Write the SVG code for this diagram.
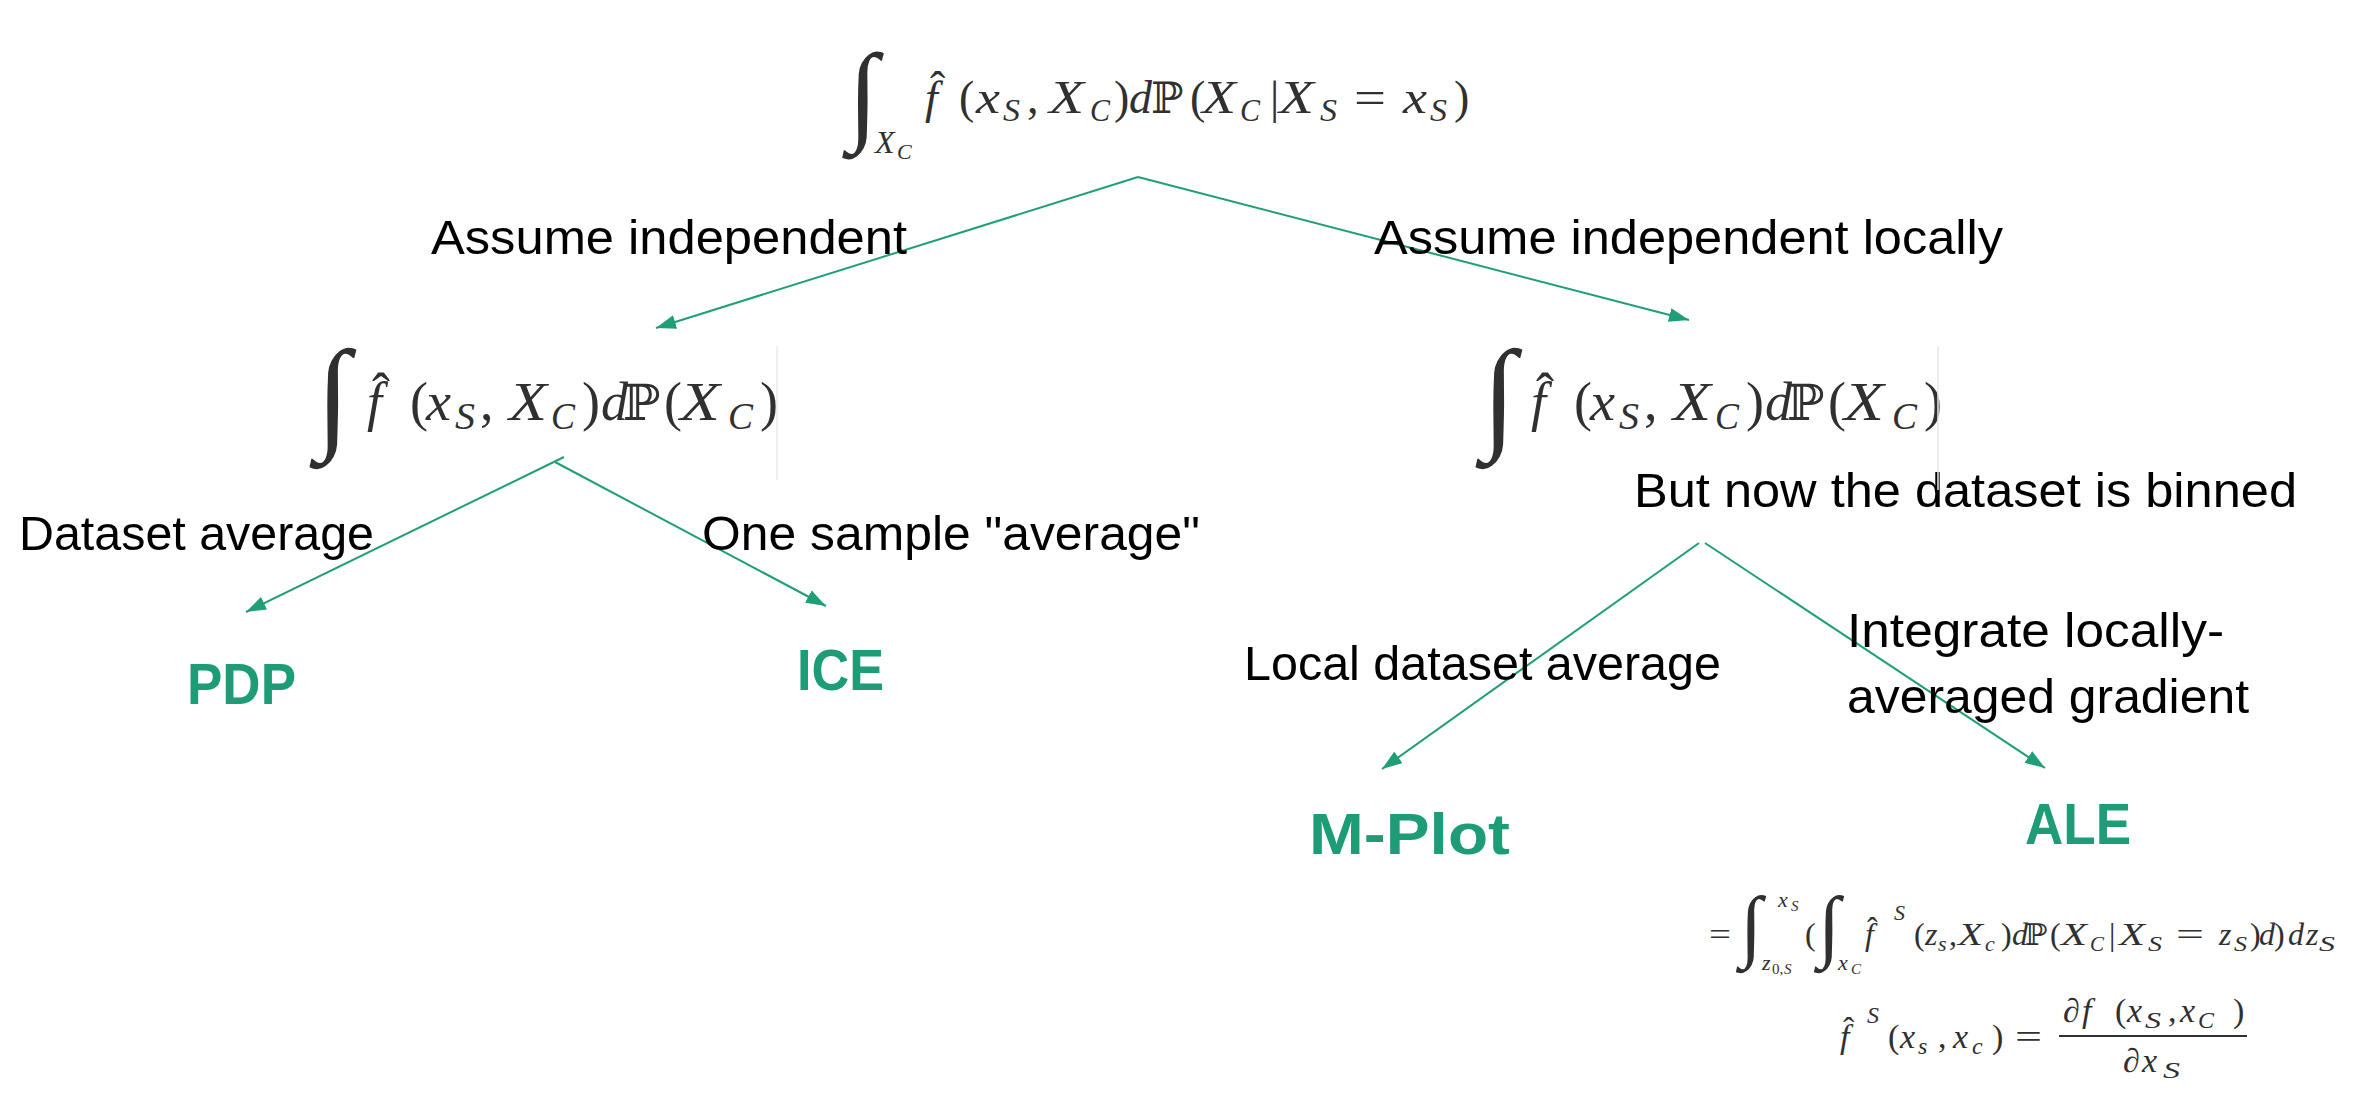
<svg xmlns="http://www.w3.org/2000/svg" width="2358" height="1103" viewBox="0 0 2358 1103">
<defs>
<style>
.lbl{font-family:"Liberation Sans",Arial,sans-serif;font-size:49px;fill:#000}
.name{font-family:"Liberation Sans",Arial,sans-serif;font-weight:bold;font-size:57px;fill:#1e9c77}
.m{font-family:"Liberation Serif","DejaVu Serif",serif;fill:#303030}
.i{font-style:italic}
.bb{font-family:"DejaVu Serif",serif;font-style:normal}
.int{font-family:"Liberation Serif","DejaVu Serif",serif;fill:#303030}
.conn{stroke:#1f9e78;stroke-width:2;fill:none;marker-end:url(#ah)}
.sep{stroke:#e8e8e8;stroke-width:1.5}
</style>
<marker id="ah" viewBox="0 0 10 7" refX="10" refY="3.5" markerWidth="10" markerHeight="7" orient="auto" markerUnits="strokeWidth">
<path d="M0,0 L10,3.5 L0,7 z" fill="#1f9e78"/>
</marker>
</defs>
<rect width="2358" height="1103" fill="#fff"/>

<g id="connectors">
<line class="conn" x1="1138" y1="177" x2="656" y2="328"/>
<line class="conn" x1="1138" y1="177" x2="1689" y2="320"/>
<line class="conn" x1="564" y1="457" x2="246" y2="612"/>
<line class="conn" x1="555" y1="462" x2="826" y2="606"/>
<line class="conn" x1="1699" y1="543" x2="1382" y2="769"/>
<line class="conn" x1="1705" y1="543" x2="2045" y2="768"/>
</g>

<g id="edge-labels">
<text class="lbl" x="431" y="254" textLength="476" lengthAdjust="spacingAndGlyphs">Assume independent</text>
<text class="lbl" x="1374" y="254" textLength="629" lengthAdjust="spacingAndGlyphs">Assume independent locally</text>
<text class="lbl" x="19" y="550" textLength="355" lengthAdjust="spacingAndGlyphs">Dataset average</text>
<text class="lbl" x="702" y="550" textLength="498" lengthAdjust="spacingAndGlyphs">One sample "average"</text>
<text class="lbl" x="1634" y="507" textLength="663" lengthAdjust="spacingAndGlyphs">But now the dataset is binned</text>
<text class="lbl" x="1244" y="680" textLength="477" lengthAdjust="spacingAndGlyphs">Local dataset average</text>
<text class="lbl" x="1847" y="647" textLength="377" lengthAdjust="spacingAndGlyphs">Integrate locally-</text>
<text class="lbl" x="1847" y="713" textLength="402" lengthAdjust="spacingAndGlyphs">averaged gradient</text>
</g>

<g id="n-root">
<text class="int" font-size="110" x="848" y="130">∫</text>
<text class="m i" font-size="32" x="875" y="153">X<tspan font-size="22" x="897" y="159">C</tspan></text>
<text class="m" font-size="46" x="930" y="104">ˆ</text>
<text class="m" font-size="46">
<tspan class="i" x="925" y="113">f</tspan><tspan x="959" y="113">(</tspan><tspan class="i" x="976" y="113" textLength="24" lengthAdjust="spacingAndGlyphs">x</tspan><tspan class="i" x="1003" y="121" font-size="32" textLength="17" lengthAdjust="spacingAndGlyphs">S</tspan><tspan x="1027" y="113">,</tspan><tspan class="i" x="1049" y="113" textLength="35" lengthAdjust="spacingAndGlyphs">X</tspan><tspan class="i" x="1090" y="121" font-size="32" textLength="20" lengthAdjust="spacingAndGlyphs">C</tspan><tspan x="1114" y="113">)</tspan><tspan class="i" x="1129" y="113">d</tspan><tspan class="bb" x="1151" y="113" font-size="43">ℙ</tspan><tspan x="1190" y="113">(</tspan><tspan class="i" x="1202" y="113" textLength="34" lengthAdjust="spacingAndGlyphs">X</tspan><tspan class="i" x="1240" y="121" font-size="32" textLength="20" lengthAdjust="spacingAndGlyphs">C</tspan><tspan x="1270" y="113">|</tspan><tspan class="i" x="1279" y="113" textLength="35" lengthAdjust="spacingAndGlyphs">X</tspan><tspan class="i" x="1320" y="121" font-size="32" textLength="17" lengthAdjust="spacingAndGlyphs">S</tspan><tspan x="1354" y="113" textLength="32" lengthAdjust="spacingAndGlyphs">=</tspan><tspan class="i" x="1403" y="113" textLength="24" lengthAdjust="spacingAndGlyphs">x</tspan><tspan class="i" x="1430" y="121" font-size="32" textLength="17" lengthAdjust="spacingAndGlyphs">S</tspan><tspan x="1454" y="113">)</tspan>
</text>
</g>

<g id="n-left">
<text class="int" font-size="124" x="316" y="436">∫</text>
<text class="m" font-size="54" x="372" y="411">ˆ</text>
<text class="m" font-size="54">
<tspan class="i" x="367" y="420">f</tspan><tspan x="410" y="420">(</tspan><tspan class="i" x="426" y="420" textLength="25" lengthAdjust="spacingAndGlyphs">x</tspan><tspan class="i" x="455" y="429" font-size="38" textLength="20" lengthAdjust="spacingAndGlyphs">S</tspan><tspan x="480" y="420">,</tspan><tspan class="i" x="509" y="420" textLength="38" lengthAdjust="spacingAndGlyphs">X</tspan><tspan class="i" x="551" y="429" font-size="38" textLength="24" lengthAdjust="spacingAndGlyphs">C</tspan><tspan x="582" y="420">)</tspan><tspan class="i" x="601" y="420">d</tspan><tspan class="bb" x="623" y="420" font-size="50">ℙ</tspan><tspan x="664" y="420">(</tspan><tspan class="i" x="680" y="420" textLength="40" lengthAdjust="spacingAndGlyphs">X</tspan><tspan class="i" x="728" y="429" font-size="38" textLength="25" lengthAdjust="spacingAndGlyphs">C</tspan><tspan x="760" y="420">)</tspan>
</text>
<line class="sep" x1="777" y1="346" x2="777" y2="480"/>
</g>

<g id="n-right">
<text class="int" font-size="124" x="1482" y="436">∫</text>
<text class="m" font-size="54" x="1536" y="411">ˆ</text>
<text class="m" font-size="54">
<tspan class="i" x="1531" y="420">f</tspan><tspan x="1574" y="420">(</tspan><tspan class="i" x="1590" y="420" textLength="25" lengthAdjust="spacingAndGlyphs">x</tspan><tspan class="i" x="1619" y="429" font-size="38" textLength="20" lengthAdjust="spacingAndGlyphs">S</tspan><tspan x="1644" y="420">,</tspan><tspan class="i" x="1673" y="420" textLength="38" lengthAdjust="spacingAndGlyphs">X</tspan><tspan class="i" x="1715" y="429" font-size="38" textLength="24" lengthAdjust="spacingAndGlyphs">C</tspan><tspan x="1746" y="420">)</tspan><tspan class="i" x="1765" y="420">d</tspan><tspan class="bb" x="1787" y="420" font-size="50">ℙ</tspan><tspan x="1828" y="420">(</tspan><tspan class="i" x="1844" y="420" textLength="40" lengthAdjust="spacingAndGlyphs">X</tspan><tspan class="i" x="1892" y="429" font-size="38" textLength="25" lengthAdjust="spacingAndGlyphs">C</tspan><tspan x="1924" y="420">)</tspan>
</text>
<line class="sep" x1="1938" y1="346" x2="1938" y2="490"/>
</g>

<g id="n-pdp"><text class="name" x="187" y="704" textLength="109" lengthAdjust="spacingAndGlyphs">PDP</text></g>
<g id="n-ice"><text class="name" x="797" y="690" textLength="87" lengthAdjust="spacingAndGlyphs">ICE</text></g>
<g id="n-mplot"><text class="name" x="1309" y="854" textLength="201" lengthAdjust="spacingAndGlyphs">M-Plot</text></g>
<g id="n-ale"><text class="name" x="2025" y="844" textLength="106" lengthAdjust="spacingAndGlyphs">ALE</text></g>

<g id="n-ale-formula">
<text class="m" font-size="32" x="1709" y="945" textLength="22" lengthAdjust="spacingAndGlyphs">=</text>
<text class="int" font-size="80" x="1740" y="952">∫</text>
<text class="m i" font-size="22" x="1778" y="907">x<tspan font-size="15" x="1791" y="911">S</tspan></text>
<text class="m i" font-size="22" x="1762" y="970">z<tspan font-size="15" x="1772" y="974" font-style="normal">0,</tspan><tspan font-size="15" x="1784" y="974">S</tspan></text>
<text class="m" font-size="32" x="1805" y="945">(</text>
<text class="int" font-size="80" x="1818" y="952">∫</text>
<text class="m i" font-size="22" x="1838" y="970">x<tspan font-size="15" x="1851" y="974">C</tspan></text>
<text class="m" font-size="32" x="1867" y="939">ˆ</text>
<text class="m i" font-size="22" x="1894" y="920">S</text>
<text class="m" font-size="32">
<tspan class="i" x="1865" y="945">f</tspan><tspan x="1914" y="945">(</tspan><tspan class="i" x="1925" y="945">z</tspan><tspan class="i" x="1938" y="951" font-size="22">s</tspan><tspan x="1949" y="945">,</tspan><tspan class="i" x="1958" y="945" textLength="25" lengthAdjust="spacingAndGlyphs">X</tspan><tspan class="i" x="1985" y="951" font-size="22">c</tspan><tspan x="2001" y="945">)</tspan><tspan class="i" x="2012" y="945">d</tspan><tspan class="bb" x="2025" y="945" font-size="30">ℙ</tspan><tspan x="2050" y="945">(</tspan><tspan class="i" x="2061" y="945" textLength="26" lengthAdjust="spacingAndGlyphs">X</tspan><tspan class="i" x="2090" y="951" font-size="22" textLength="14" lengthAdjust="spacingAndGlyphs">C</tspan><tspan x="2109" y="945">|</tspan><tspan class="i" x="2119" y="945" textLength="26" lengthAdjust="spacingAndGlyphs">X</tspan><tspan class="i" x="2148" y="951" font-size="22" textLength="14" lengthAdjust="spacingAndGlyphs">S</tspan><tspan x="2176" y="945" textLength="28" lengthAdjust="spacingAndGlyphs">=</tspan><tspan class="i" x="2219" y="945">z</tspan><tspan class="i" x="2234" y="951" font-size="22" textLength="13" lengthAdjust="spacingAndGlyphs">S</tspan><tspan x="2250" y="945">)</tspan><tspan class="i" x="2259" y="945">d</tspan><tspan x="2274" y="945">)</tspan><tspan class="i" x="2288" y="945">d</tspan><tspan class="i" x="2306" y="945">z</tspan><tspan class="i" x="2319" y="951" font-size="22" textLength="16" lengthAdjust="spacingAndGlyphs">S</tspan>
</text>

<text class="m" font-size="34" x="1843" y="1041">ˆ</text>
<text class="m i" font-size="24" x="1867" y="1023">S</text>
<text class="m" font-size="34">
<tspan class="i" x="1840" y="1048">f</tspan><tspan x="1888" y="1048">(</tspan><tspan class="i" x="1900" y="1048">x</tspan><tspan class="i" x="1918" y="1054" font-size="24">s</tspan><tspan x="1938" y="1048">,</tspan><tspan class="i" x="1953" y="1048">x</tspan><tspan class="i" x="1972" y="1054" font-size="24">c</tspan><tspan x="1992" y="1048">)</tspan><tspan x="2015" y="1048" textLength="27" lengthAdjust="spacingAndGlyphs">=</tspan>
</text>
<text class="m" font-size="34">
<tspan x="2063" y="1022">∂</tspan><tspan class="i" x="2082" y="1022">f</tspan><tspan x="2115" y="1022">(</tspan><tspan class="i" x="2127" y="1022">x</tspan><tspan class="i" x="2145" y="1028" font-size="24" textLength="16" lengthAdjust="spacingAndGlyphs">S</tspan><tspan x="2168" y="1022">,</tspan><tspan class="i" x="2180" y="1022">x</tspan><tspan class="i" x="2198" y="1028" font-size="24" textLength="16" lengthAdjust="spacingAndGlyphs">C</tspan><tspan x="2233" y="1022">)</tspan>
</text>
<line x1="2059" y1="1036" x2="2247" y2="1036" stroke="#303030" stroke-width="2"/>
<text class="m" font-size="34">
<tspan x="2123" y="1072">∂</tspan><tspan class="i" x="2142" y="1072">x</tspan><tspan class="i" x="2163" y="1078" font-size="24" textLength="17" lengthAdjust="spacingAndGlyphs">S</tspan>
</text>
</g>
</svg>
